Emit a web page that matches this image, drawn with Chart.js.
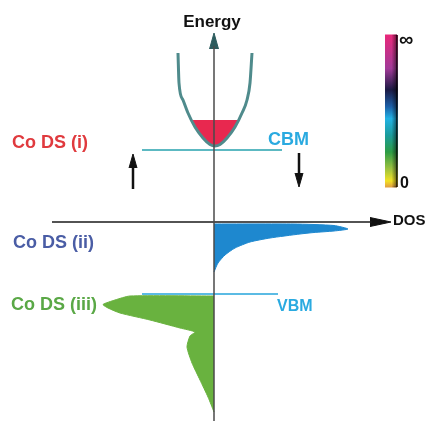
<!DOCTYPE html>
<html lang="en">
<head>
<meta charset="UTF-8">
<title>Co DS band diagram</title>
<script src="https://cdn.jsdelivr.net/npm/chart.js"></script>
<style>
    body { margin: 0; background: #fff; }
    canvas { display: block; }
</style>
</head>
<body>
<canvas id="chart" width="436" height="421"></canvas>
<script>
    // values (x = DOS, y = energy, arbitrary units)
    const parabolaX = [-3.6, -3.5, -3.1, -2.6, -1.9, -1.1, -0.4, 0.1, 0.6, 1.3, 2.1, 2.8, 3.3, 3.6, 3.8];
    const parabolaE = [16.9, 13.9, 12.2, 10.9, 9.5, 8.4, 7.75, 7.6, 7.75, 8.4, 9.5, 10.9, 12.2, 13.9, 16.9];

    const filledX = [-2.2, -1.9, -1.1, -0.4, 0.1, 0.6, 1.3, 2.1, 2.4];
    const filledE = [10.2, 9.5, 8.4, 7.75, 7.6, 7.75, 8.4, 9.5, 10.2];

    const blueDosX = [0, 8, 12, 13.4, 12, 10, 8.6, 5.6, 3.6, 2.1, 1.1, 0.4, 0];
    const blueDosE = [-0.2, -0.2, -0.35, -0.7, -0.9, -1.05, -1.2, -1.6, -2.0, -2.6, -3.3, -4.1, -5.0];

    const greenDosX = [0, -8.4, -9.9, -11.1, -10.6, -9.4, -6.4, -3.4, -1.9, -2.4, -2.7, -2.2, -1.4, -0.6, 0];
    const greenDosE = [-7.4, -7.4, -7.8, -8.25, -8.6, -9.1, -9.8, -10.6, -11.0, -11.4, -12.5, -14.1, -15.8, -17.5, -19.0];

    const cbmX = [-7.2, 6.8], cbmE = 7.2;
    const vbmX = [-7.2, 6.4], vbmE = -7.2;

    const dosAxisX = [-16.2, 15.8];
    const energyAxisE = [-19.9, 17.6];

    const colorbarX = [17.1, 18.3];
    const colorbarE = [18.7, 3.5];
    const colorStops = [0, 0.22, 0.36, 0.47, 0.55, 0.66, 0.77, 0.88, 0.96, 1];
    const colorList = ['#e8287a', '#a23a98', '#1c1a44', '#1c5ea6', '#22b2e4', '#1a9c9c', '#2c9c44', '#9cc23e', '#f2e224', '#e2a040'];

    const zip = (xs, ys) => xs.map((x, i) => ({ x: x, y: ys[i] }));
    const rect = (xs, ys) => [
        { x: xs[0], y: ys[0] }, { x: xs[1], y: ys[0] },
        { x: xs[1], y: ys[1] }, { x: xs[0], y: ys[1] }
    ];

    function shape(points, color, order, extra) {
        return Object.assign({
            data: points, showLine: true, fill: 'shape',
            backgroundColor: color, borderColor: color, borderWidth: 1,
            pointRadius: 0, order: order
        }, extra || {});
    }

    function line(points, color, width, order, extra) {
        return Object.assign({
            data: points, showLine: true, fill: false,
            borderColor: color, borderWidth: width, pointRadius: 0, order: order
        }, extra || {});
    }

    function colorbarFill(c) {
        const ch = c.chart;
        if (!ch.chartArea) return 'transparent';
        const y = ch.scales.y;
        const g = ch.ctx.createLinearGradient(0, y.getPixelForValue(colorbarE[0]), 0, y.getPixelForValue(colorbarE[1]));
        colorStops.forEach((s, i) => g.addColorStop(s, colorList[i]));
        return g;
    }

    function colorbarShade(c) {
        const ch = c.chart;
        if (!ch.chartArea) return 'transparent';
        const x = ch.scales.x;
        const g = ch.ctx.createLinearGradient(x.getPixelForValue(colorbarX[0]), 0, x.getPixelForValue(colorbarX[1]), 0);
        g.addColorStop(0, 'rgba(0,0,0,0)');
        g.addColorStop(0.55, 'rgba(0,0,0,0)');
        g.addColorStop(1, 'rgba(0,0,0,0.55)');
        return g;
    }

    const smooth = { cubicInterpolationMode: 'monotone' };
    const soft = { tension: 0.2 };

    const datasets = [
        // axes and arrows on top
        line(zip([0, 0], energyAxisE), '#4a4a4a', 1.5, 0),
        shape([{ x: -0.45, y: 17.3 }, { x: 0, y: 18.9 }, { x: 0.45, y: 17.3 }], '#2d5c5e', 0),
        line(zip(dosAxisX, [0, 0]), '#1a1a1a', 1.5, 0),
        shape([{ x: 15.6, y: 0.45 }, { x: 17.7, y: 0 }, { x: 15.6, y: -0.45 }], '#111', 0),
        line([{ x: -8.1, y: 3.3 }, { x: -8.1, y: 5.6 }], '#111', 2.5, 0),
        shape([{ x: -8.5, y: 5.4 }, { x: -8.1, y: 6.8 }, { x: -7.7, y: 5.4 }], '#111', 0),
        line([{ x: 8.5, y: 6.9 }, { x: 8.5, y: 4.7 }], '#111', 2.5, 0),
        shape([{ x: 8.1, y: 4.9 }, { x: 8.5, y: 3.5 }, { x: 8.9, y: 4.9 }], '#111', 0),
        // band edges
        line(zip(parabolaX, parabolaE), '#4f8b8c', 3, 1, smooth),
        line(zip(cbmX, [cbmE, cbmE]), '#5cb9c2', 2, 1),
        line(zip(vbmX, [vbmE, vbmE]), '#5bbbe4', 2, 1),
        // filled densities
        shape(zip(filledX, filledE), '#e8284f', 2, smooth),
        shape(zip(blueDosX, blueDosE), '#1e88cf', 2, soft),
        shape(zip(greenDosX, greenDosE), '#69b23f', 2, soft),
        // colour bar
        shape(rect(colorbarX, colorbarE), colorbarShade, 3),
        shape(rect(colorbarX, colorbarE), colorbarFill, 4)
    ];

    const texts = [
        { t: 'Energy', x: -0.2, y: 20.0, c: '#111', f: 'bold 17px Arial', a: 'center' },
        { t: 'DOS', x: 17.9, y: 0.1, c: '#111', f: 'bold 15px Arial', a: 'left' },
        { t: 'CBM', x: 5.4, y: 8.2, c: '#2aaae0', f: 'bold 18px Arial', a: 'left' },
        { t: 'VBM', x: 6.3, y: -8.5, c: '#2aaae0', f: 'bold 16px Arial', a: 'left' },
        { t: 'Co DS (i)', x: -20.2, y: 7.9, c: '#e03a3e', f: 'bold 18px Arial', a: 'left' },
        { t: 'Co DS (ii)', x: -20.1, y: -2.1, c: '#4a5da5', f: 'bold 18px Arial', a: 'left' },
        { t: 'Co DS (iii)', x: -20.3, y: -8.3, c: '#5aa846', f: 'bold 18px Arial', a: 'left' },
        { t: '\u221E', x: 18.5, y: 18.2, c: '#111', f: 'bold 20px Arial', a: 'left' },
        { t: '0', x: 18.6, y: 3.8, c: '#111', f: 'bold 16px Arial', a: 'left' }
    ];

    const textPlugin = {
        id: 'texts',
        afterDatasetsDraw(chart) {
            const ctx = chart.ctx;
            const sx = chart.scales.x, sy = chart.scales.y;
            ctx.save();
            ctx.textBaseline = 'middle';
            texts.forEach(item => {
                ctx.font = item.f;
                ctx.fillStyle = item.c;
                ctx.textAlign = item.a;
                ctx.fillText(item.t, sx.getPixelForValue(item.x), sy.getPixelForValue(item.y));
            });
            ctx.restore();
        }
    };

    new Chart(document.getElementById('chart'), {
        type: 'scatter',
        data: { datasets: datasets },
        options: {
            responsive: false,
            animation: false,
            layout: { padding: 0 },
            elements: { line: { tension: 0 } },
            scales: {
                x: { type: 'linear', min: -21.4, max: 22.2, display: false },
                y: { type: 'linear', min: -19.9, max: 22.2, display: false }
            },
            plugins: { legend: { display: false }, tooltip: { enabled: false } }
        },
        plugins: [textPlugin]
    });
</script>
</body>
</html>
